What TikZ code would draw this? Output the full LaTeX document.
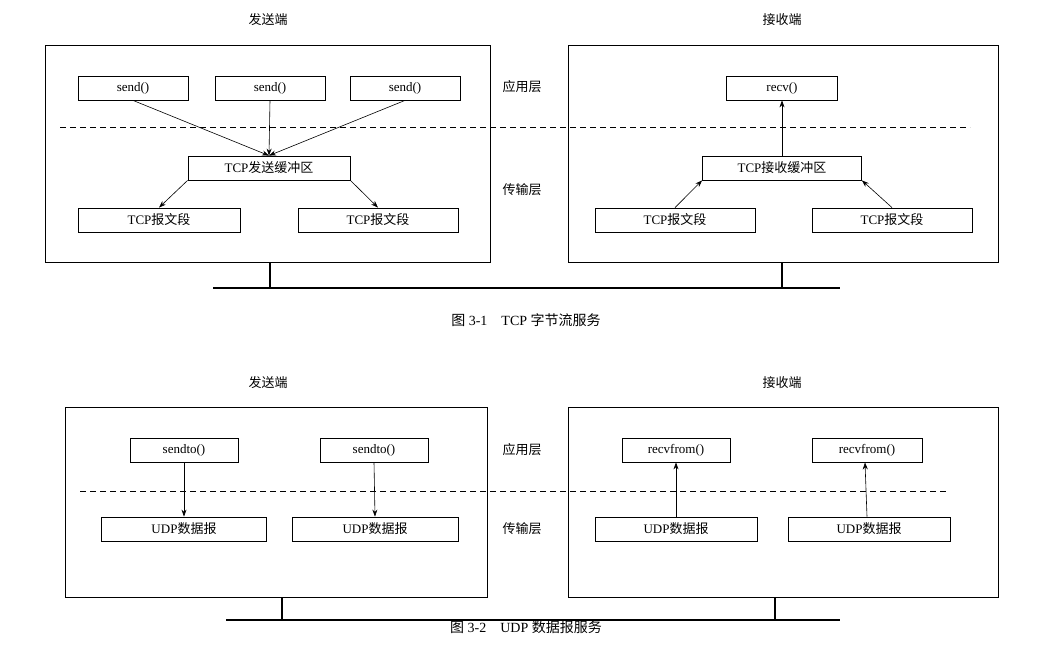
\documentclass[tikz,border=0pt]{standalone}
\usepackage{fontspec}
\setmainfont{Liberation Serif}
\newfontfamily\cjk{Noto Sans CJK SC}
\usetikzlibrary{arrows.meta}
\begin{document}
\begin{tikzpicture}[x=1pt,y=-1pt,
  box/.style={draw,line width=0.8pt,minimum height=24pt,inner sep=0pt,font=\fontsize{13}{15}\selectfont},
  big/.style={draw,line width=0.9pt},
  lab/.style={font=\cjk\fontsize{13}{15}\selectfont},
  capt/.style={font=\fontsize{14}{16}\selectfont},
  arr/.style={-{Stealth[length=7pt,width=5pt]},line width=0.6pt},
  dline/.style={line width=0.7pt,dash pattern=on 6pt off 4pt},
  stand/.style={line width=2pt}]
\useasboundingbox (0,0) rectangle (1052,645);
% ---------- Figure 3-1 ----------
\node[lab] (t1) at (268,20) {发送端};
\node[lab] (t2) at (782,20) {接收端};
\draw[big] (45,45) rectangle (490,262);
\draw[big] (568,45) rectangle (998,262);
\draw[dline] (60,127) -- (970,127);
\node[lab] (a1) at (522,87) {应用层};
\node[lab] (b1) at (522,190) {传输层};
\node[box,minimum width=110pt] (s1) at (133,88) {send()};
\node[box,minimum width=110pt] (s2) at (270,88) {send()};
\node[box,minimum width=110pt] (s3) at (405,88) {send()};
\node[box,minimum width=162pt] (sb) at (269,168) {TCP{\cjk 发送缓冲区}};
\node[box,minimum width=162pt] (g1) at (159,220) {TCP{\cjk 报文段}};
\node[box,minimum width=160pt] (g2) at (378,220) {TCP{\cjk 报文段}};
\draw[arr] (s1.south) -- (sb.north);
\draw[arr] (s2.south) -- (sb.north);
\draw[arr] (s3.south) -- (sb.north);
\draw[arr] (sb.south west) -- (g1.north);
\draw[arr] (sb.south east) -- (g2.north);
\node[box,minimum width=111pt] (r1) at (782,88) {recv()};
\node[box,minimum width=159pt] (rb) at (782,168) {TCP{\cjk 接收缓冲区}};
\node[box,minimum width=160pt] (h1) at (675,220) {TCP{\cjk 报文段}};
\node[box,minimum width=160pt] (h2) at (892,220) {TCP{\cjk 报文段}};
\draw[arr] (rb.north) -- (r1.south);
\draw[arr] (h1.north) -- (rb.south west);
\draw[arr] (h2.north) -- (rb.south east);
\coordinate (p1) at (270,262); \coordinate (q1) at (270,288);
\coordinate (p2) at (782,262); \coordinate (q2) at (782,288);
\draw[stand] (p1) -- (q1); \draw[stand] (p2) -- (q2);
\draw[stand] (213,288) -- (840,288);
\node[capt] (c1) at (526,320) {{\cjk 图} 3-1\hspace{14pt}TCP {\cjk 字节流服务}};
% ---------- Figure 3-2 ----------
\node[lab] (t3) at (268,383) {发送端};
\node[lab] (t4) at (782,383) {接收端};
\draw[big] (65,407) rectangle (487,597);
\draw[big] (568,407) rectangle (998,597);
\draw[dline] (80,491) -- (948,491);
\node[lab] (a2) at (522,450) {应用层};
\node[lab] (b2) at (522,529) {传输层};
\node[box,minimum width=108pt] (u1) at (184,450) {sendto()};
\node[box,minimum width=108pt] (u2) at (374,450) {sendto()};
\node[box,minimum width=165pt] (d1) at (184,529) {UDP{\cjk 数据报}};
\node[box,minimum width=166pt] (d2) at (375,529) {UDP{\cjk 数据报}};
\draw[arr] (u1.south) -- (d1.north);
\draw[arr] (u2.south) -- (d2.north);
\node[box,minimum width=108pt] (v1) at (676,450) {recvfrom()};
\node[box,minimum width=110pt] (v2) at (867,450) {recvfrom()};
\node[box,minimum width=162pt] (e1) at (676,529) {UDP{\cjk 数据报}};
\node[box,minimum width=162pt] (e2) at (869,529) {UDP{\cjk 数据报}};
\draw[arr] (e1.north) -- (v1.south);
\draw[arr] ([xshift=-2pt]e2.north) -- ([xshift=-2pt]v2.south);
\coordinate (p3) at (282,597); \coordinate (q3) at (282,620);
\coordinate (p4) at (775,597); \coordinate (q4) at (775,620);
\draw[stand] (p3) -- (q3); \draw[stand] (p4) -- (q4);
\draw[stand] (226,620) -- (840,620);
\node[capt] (c2) at (526,627) {{\cjk 图} 3-2\hspace{14pt}UDP {\cjk 数据报服务}};
\end{tikzpicture}
\end{document}
